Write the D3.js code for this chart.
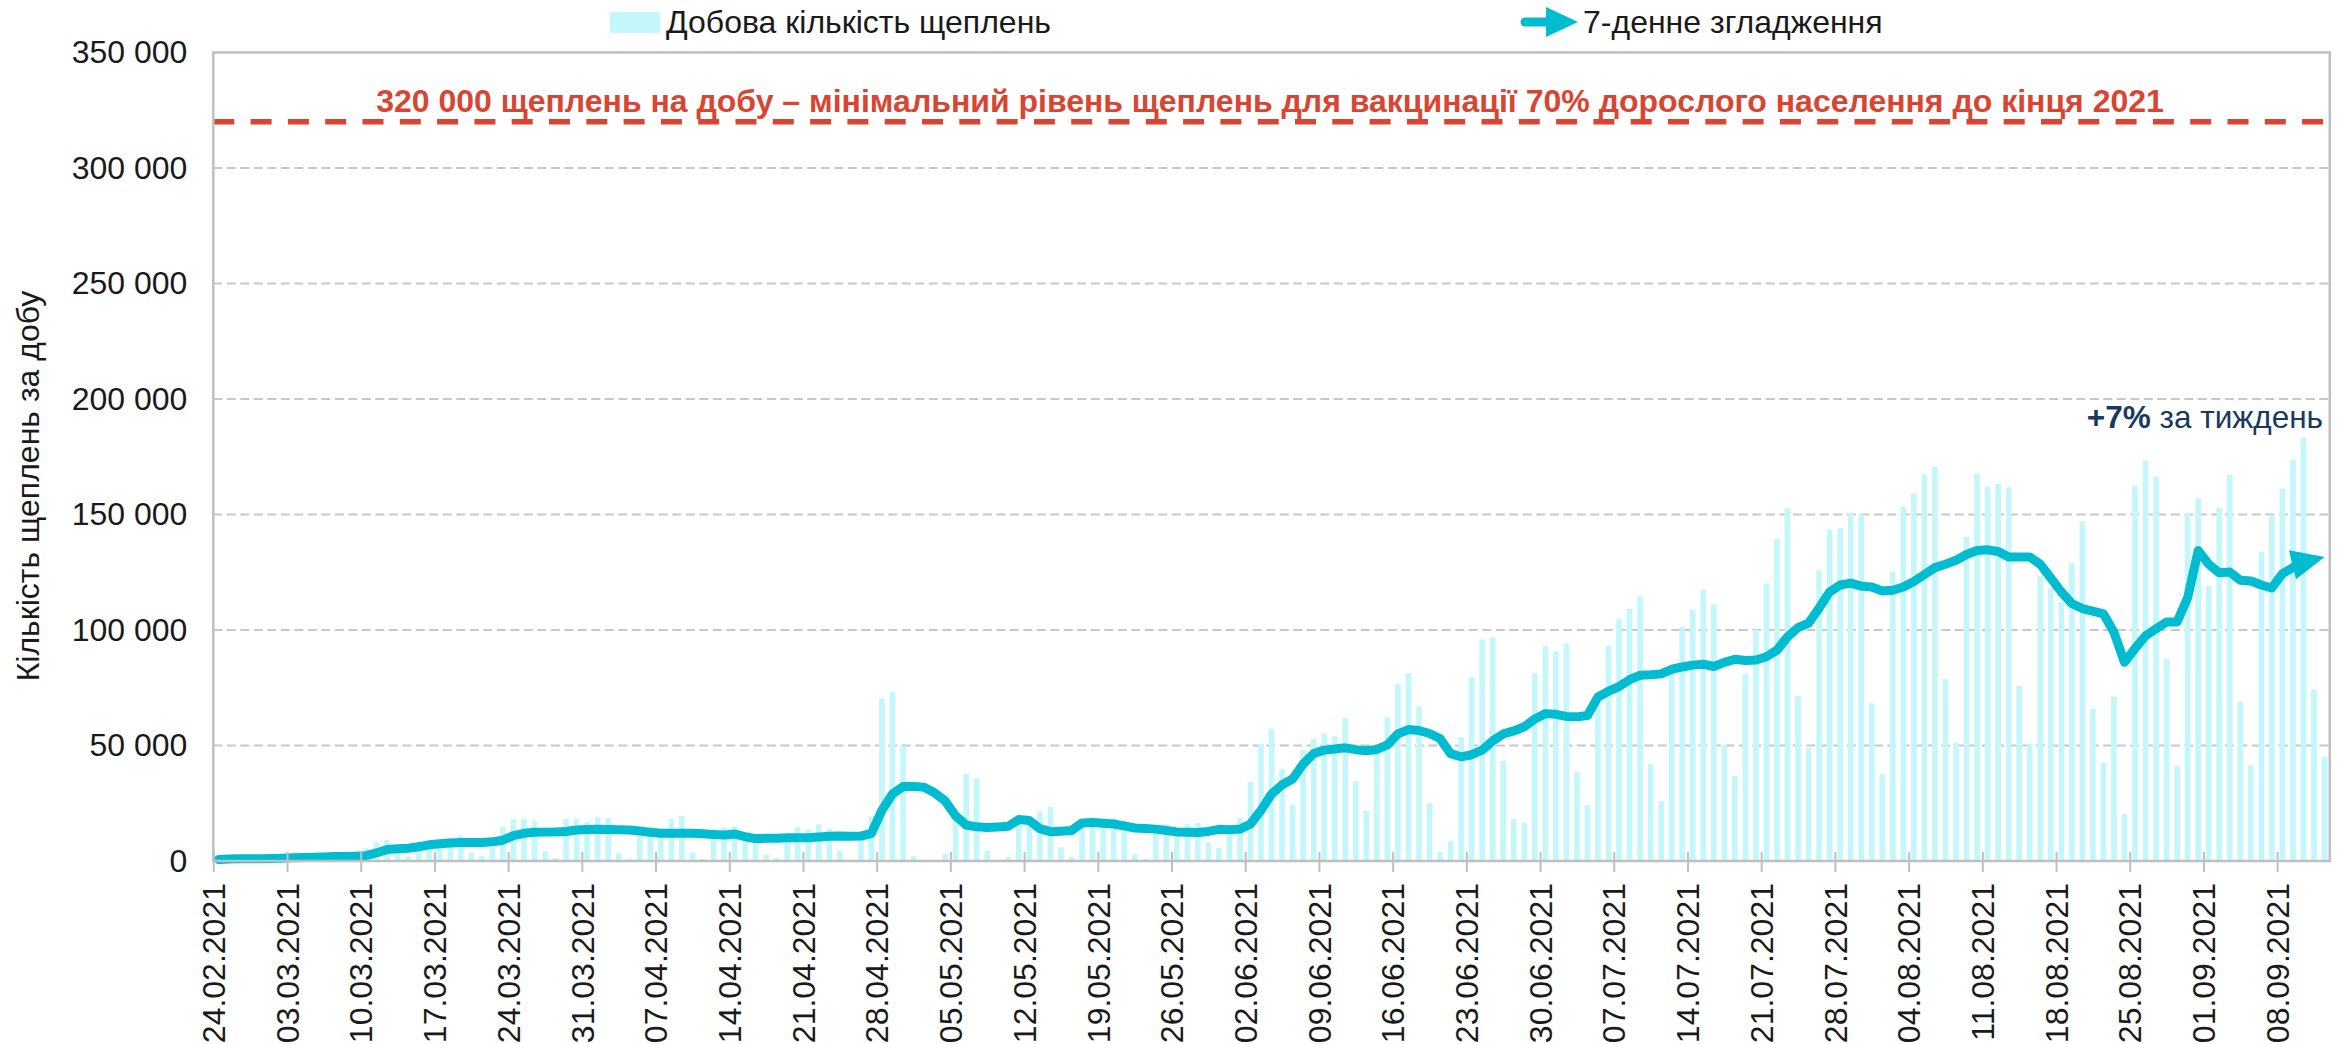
<!DOCTYPE html>
<html><head><meta charset="utf-8">
<script src="https://cdn.jsdelivr.net/npm/d3@7"></script>
<style>
html,body{margin:0;padding:0;background:#fff;}
svg{display:block;font-family:"Liberation Sans",Arial,sans-serif;}
</style></head><body>
<svg id="chart" width="2346" height="1044"></svg>
<script>
// ---------- DATA ----------
const dailyDoses = [
  200, 700, 900, 1000, 600, 200, 1200,
  1500, 1800, 2000, 1700, 900, 400, 1900,
  5500, 8200, 9100, 4500, 1900, 8200, 9100,
  7600, 10200, 11100, 3600, 2200, 5800, 14700,
  18200, 18200, 17500, 4200, 1300, 18200, 18200,
  17000, 18900, 18600, 3600, 1000, 11500, 14800,
  11000, 18200, 19500, 3600, 900, 11500, 14600,
  15100, 12000, 11000, 2700, 1300, 11000, 14700,
  13700, 15900, 13900, 4300, 600, 11000, 19200,
  70400, 73200, 49800, 2200, 300, 600, 3000,
  19000, 37700, 35800, 4500, 600, 1700, 17000,
  18000, 21400, 23400, 5900, 1700, 16000, 18900,
  17000, 18600, 17200, 3000, 900, 14000, 16000,
  13000, 15900, 16500, 8100, 5800, 14000, 18600,
  34200, 50600, 57100, 39800, 24400, 48000, 52900,
  55300, 54000, 61800, 34600, 21900, 48000, 62300,
  76500, 81300, 67000, 25100, 4000, 8600, 53600,
  79700, 96000, 96800, 43500, 18200, 16600, 81300,
  92900, 90800, 94200, 38500, 24200, 71000, 93200,
  104800, 109100, 114600, 41900, 25900, 84000, 101200,
  108700, 117400, 111100, 50100, 36900, 81000, 100100,
  120200, 139500, 152700, 71500, 48900, 125900, 143400,
  144000, 150300, 150000, 68300, 37600, 125100, 153500,
  159100, 167400, 170800, 78800, 51200, 140200, 167700,
  162100, 163300, 161800, 75900, 50700, 123400, 118000,
  112000, 129000, 147000, 65900, 42500, 71200, 20300,
  162400, 173400, 166400, 87500, 41400, 150400, 157100,
  119000, 152900, 167300, 69000, 41500, 133900, 149900,
  161200, 173800, 183400, 74200, 45000
];
const smoothed7 = [
  700, 900, 1000, 1000, 1000, 1100, 1200,
  1400, 1500, 1600, 1700, 1900, 2000, 2100,
  2300, 3500, 5000, 5300, 5500, 6200, 7000,
  7500, 7800, 8000, 8000, 8000, 8300, 9000,
  11000, 12000, 12400, 12500, 12600, 12800, 13400,
  13600, 13700, 13600, 13500, 13400, 13000, 12400,
  12000, 12000, 12000, 12000, 11800, 11500, 11300,
  11700, 10500, 9700, 9800, 9900, 10100, 10100,
  10100, 10400, 10700, 10800, 10700, 10800, 12000,
  22000, 29000, 32200, 32300, 31900, 29500, 26000,
  19500, 15600, 14800, 14500, 14700, 15000, 18000,
  17500, 14000, 12700, 12900, 13200, 16500, 16700,
  16300, 16000, 15200, 14300, 14100, 13800, 13200,
  12600, 12400, 12300, 12800, 13700, 13500, 13800,
  16000, 22000, 29000, 33000, 35500, 42000, 46500,
  48000, 48500, 49000, 48200, 47700, 48300, 50300,
  55000, 56900, 56500, 55200, 53000, 46500, 45100,
  46000, 48000, 52000, 55000, 56300, 58100, 61500,
  63800, 63500, 62600, 62400, 63000, 71000, 73500,
  75500, 78500, 80400, 80600, 81000, 83000, 84000,
  84800, 85200, 84200, 86000, 87300, 86800, 87000,
  88400, 91300, 97000, 101000, 103000, 109500, 116500,
  119500, 120300, 119000, 118600, 116900, 117200, 118600,
  121000, 124000, 127000, 128500, 130200, 132700, 134400,
  134700, 134000, 131600, 131600, 131600, 128500, 122500,
  116500, 111500, 109300, 108200, 107000, 99000, 86000,
  92000, 97500, 100500, 103500, 103500, 114000, 134400,
  128500, 124800, 125100, 121500, 121200, 119500, 118200,
  124400, 127000, 129300, 130500, 131600
];
const tickLabels = [
  "24.02.2021","03.03.2021","10.03.2021","17.03.2021","24.03.2021","31.03.2021",
  "07.04.2021","14.04.2021","21.04.2021","28.04.2021","05.05.2021","12.05.2021",
  "19.05.2021","26.05.2021","02.06.2021","09.06.2021","16.06.2021","23.06.2021",
  "30.06.2021","07.07.2021","14.07.2021","21.07.2021","28.07.2021","04.08.2021",
  "11.08.2021","18.08.2021","25.08.2021","01.09.2021","08.09.2021"
];
const tickEvery = 7;
const yTickValues = [0, 50000, 100000, 150000, 200000, 250000, 300000, 350000];
const targetValue = 320000;
const legendBarsText = "Добова кількість щеплень";
const legendLineText = "7-денне згладження";
const targetText = "320 000 щеплень на добу – мінімальний рівень щеплень для вакцинації 70% дорослого населення до кінця 2021";
const yTitleText = "Кількість щеплень за добу";
const changeBold = "+7%";
const changeRest = " за тиждень";

// ---------- LAYOUT ----------
const plot = {left: 213.3, right: 2329.8, top: 52.5, bottom: 861};
const C = {bar: "#C4F7FC", line: "#00BCD0", red: "#D84532", grid: "#C8C8C8", frame: "#BFBFBF", text: "#1a1a1a", navy: "#183A5E"};
const FS = 32;

const svg = d3.select("#chart");
const n = dailyDoses.length;
const x = d3.scaleBand().domain(d3.range(n)).range([plot.left, plot.right]).paddingInner(0.46).paddingOuter(0.23);
const xEdge = d3.scaleLinear().domain([0, n]).range([plot.left, plot.right]);
const y = d3.scaleLinear().domain([0, 350000]).range([plot.bottom, plot.top]);

// gridlines
svg.append("g").selectAll("line")
  .data(yTickValues.filter(v => v > 0 && v < 350000))
  .join("line")
  .attr("x1", plot.left).attr("x2", plot.right)
  .attr("y1", d => y(d)).attr("y2", d => y(d))
  .attr("stroke", C.grid).attr("stroke-width", 2).attr("stroke-dasharray", "9,4.5");

// bars
svg.append("g").selectAll("rect")
  .data(dailyDoses)
  .join("rect")
  .attr("x", (d, i) => x(i))
  .attr("width", x.bandwidth())
  .attr("y", d => y(d))
  .attr("height", d => y(0) - y(d))
  .attr("fill", C.bar);

// 7-day line with arrow head
const pts = smoothed7.map((v, i) => [x(i) + x.bandwidth() / 2, y(v)]);
const P = pts[n - 1], Q = pts[n - 2];
const dx = P[0] - Q[0], dy = P[1] - Q[1], len = Math.hypot(dx, dy);
const ux = dx / len, uy = dy / len;
const headLen = 33, headHalf = 15;
const linePts = pts.slice(0, n - 1).concat([[P[0] - ux * 20, P[1] - uy * 20]]);
svg.append("path")
  .attr("d", d3.line()(linePts))
  .attr("fill", "none").attr("stroke", C.line).attr("stroke-width", 9)
  .attr("stroke-linejoin", "round").attr("stroke-linecap", "round");
const B = [P[0] - ux * headLen, P[1] - uy * headLen];
svg.append("path")
  .attr("d", `M${P[0]},${P[1]}L${B[0] - uy * headHalf},${B[1] + ux * headHalf}L${B[0] + uy * headHalf},${B[1] - ux * headHalf}Z`)
  .attr("fill", C.line);

// target line
svg.append("line")
  .attr("x1", plot.left).attr("x2", plot.right)
  .attr("y1", y(targetValue)).attr("y2", y(targetValue))
  .attr("stroke", C.red).attr("stroke-width", 5.5).attr("stroke-dasharray", "21,16.3");

// frame
svg.append("rect")
  .attr("x", plot.left).attr("y", plot.top)
  .attr("width", plot.right - plot.left).attr("height", plot.bottom - plot.top)
  .attr("fill", "none").attr("stroke", C.frame).attr("stroke-width", 2.5);

// x axis
const xAxis = svg.append("g").attr("transform", `translate(0,${plot.bottom})`)
  .call(d3.axisBottom(xEdge)
    .tickValues(tickLabels.map((_, i) => i * tickEvery))
    .tickFormat((d, i) => tickLabels[i])
    .tickSize(11));
xAxis.select(".domain").remove();
xAxis.selectAll(".tick line").attr("y1", -9).attr("y2", 11).attr("stroke", C.frame).attr("stroke-width", 2);
xAxis.selectAll(".tick text")
  .attr("transform", "rotate(-90)")
  .attr("x", -22).attr("y", 0).attr("dy", "0.35em")
  .attr("text-anchor", "end")
  .attr("font-size", FS).attr("fill", C.text)
  .attr("font-family", '"Liberation Sans",Arial,sans-serif');

// y axis
const yAxis = svg.append("g").attr("transform", `translate(${plot.left},0)`)
  .call(d3.axisLeft(y).tickValues(yTickValues)
    .tickFormat(d => d3.format(",")(d).replace(/,/g, " "))
    .tickSize(0).tickPadding(26));
yAxis.select(".domain").remove();
yAxis.selectAll(".tick text").attr("font-size", FS).attr("fill", C.text)
  .attr("font-family", '"Liberation Sans",Arial,sans-serif');

// y title
svg.append("text")
  .attr("transform", `translate(28,486) rotate(-90)`)
  .attr("text-anchor", "middle").attr("dy", "0.35em")
  .attr("font-size", FS).attr("fill", C.text)
  .text(yTitleText);

// target text
svg.append("text")
  .attr("x", 1270).attr("y", 112)
  .attr("text-anchor", "middle")
  .attr("font-size", 32).attr("font-weight", "bold").attr("fill", C.red)
  .text(targetText);

// weekly change annotation
const ann = svg.append("text")
  .attr("x", 2323).attr("y", 428)
  .attr("text-anchor", "end")
  .attr("font-size", 31.5).attr("fill", C.navy);
ann.append("tspan").attr("font-weight", "bold").text(changeBold);
ann.append("tspan").text(changeRest);

// legend
const lg = svg.append("g");
lg.append("rect").attr("x", 610).attr("y", 12).attr("width", 50).attr("height", 21).attr("fill", C.bar);
lg.append("text").attr("x", 666).attr("y", 22).attr("dy", "0.35em")
  .attr("font-size", FS).attr("fill", C.text).text(legendBarsText);
lg.append("line").attr("x1", 1525).attr("x2", 1552).attr("y1", 22).attr("y2", 22)
  .attr("stroke", C.line).attr("stroke-width", 9).attr("stroke-linecap", "round");
lg.append("path").attr("d", "M1546,7L1578,22L1546,37Z").attr("fill", C.line);
lg.append("text").attr("x", 1583).attr("y", 22).attr("dy", "0.35em")
  .attr("font-size", FS).attr("fill", C.text).text(legendLineText);
</script>
</body></html>
